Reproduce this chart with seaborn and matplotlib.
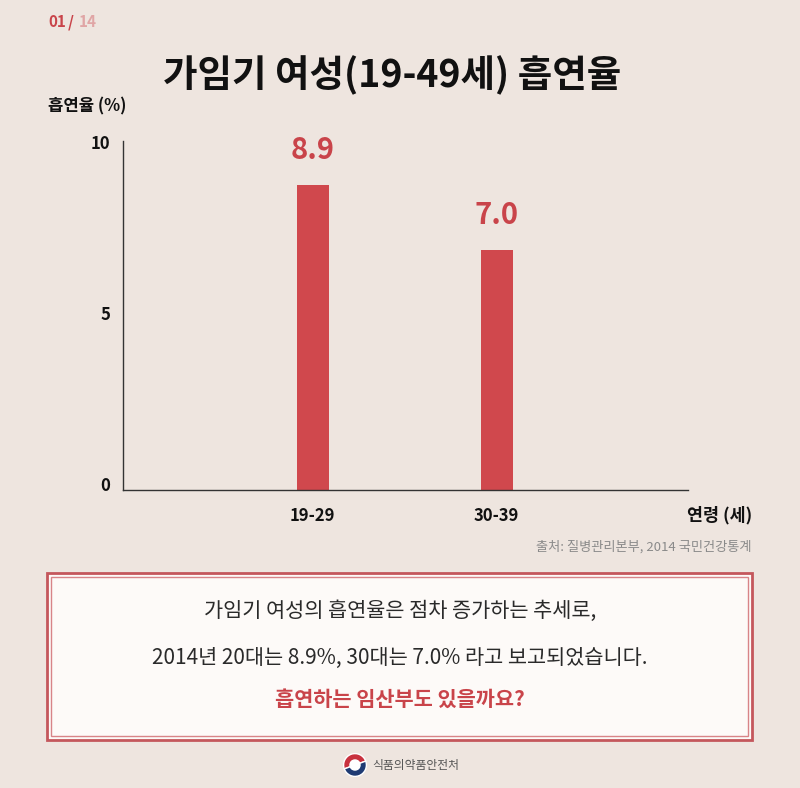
import matplotlib
matplotlib.use("Agg")
import matplotlib.pyplot as plt
import matplotlib.transforms as mtransforms
import seaborn as sns
import pandas as pd
from matplotlib.patches import Rectangle, Circle, Wedge

categories = ["19-29", "30-39"]
values = [8.9, 7.0]
value_labels = ["8.9", "7.0"]
y_ticks = [0, 5, 10]

BG = "#EEE5DF"
RED = "#D0484D"
TXT_RED = "#C9444A"

sns.set_theme(style="white")
plt.rcParams["font.family"] = ["Noto Sans CJK KR", "DejaVu Sans"]

fig = plt.figure(figsize=(8, 7.88), dpi=100)
fig.patch.set_facecolor(BG)

ax = fig.add_axes([123/800, 1-490/788, (688-123)/800, 349/788])
ax.set_facecolor(BG)
df = pd.DataFrame({"age": categories, "rate": values})
sns.barplot(data=df, x="age", y="rate", color=RED, width=0.174, ax=ax, saturation=1,
            linewidth=0, edgecolor=RED)
ax.set_xlim(-1.03, 2.04)
ax.set_ylim(0, 10.2)
for i, (v, lab) in enumerate(zip(values, value_labels)):
    ax.annotate(lab, (i, v), xytext=(0, 20), textcoords="offset pixels",
                ha="center", va="bottom", fontsize=21, fontweight="bold", color=TXT_RED)
ax.set_yticks(y_ticks)
ax.set_yticklabels([str(t) for t in y_ticks], fontsize=12, fontweight="bold", color="#111111")
ax.tick_params(axis="y", length=0, pad=9)
shift = mtransforms.ScaledTranslation(0, 4/100, fig.dpi_scale_trans)
for lbl in ax.get_yticklabels():
    lbl.set_verticalalignment("center")
    lbl.set_transform(lbl.get_transform() + shift)
ax.set_xticks(range(len(categories)))
ax.set_xticklabels(categories, fontsize=12, fontweight="bold", color="#111111")
ax.tick_params(axis="x", length=0, pad=12)
ax.set_xlabel("")
ax.set_ylabel("")
for s in ["top", "right"]:
    ax.spines[s].set_visible(False)
for s in ["left", "bottom"]:
    ax.spines[s].set_color("#333333")
    ax.spines[s].set_linewidth(1.0)

# texts
fig.text(48/800, 1-22/788, "01", fontsize=11, fontweight="bold", color="#C9444A", va="center")
fig.text(68/800, 1-22/788, "/", fontsize=11, fontweight="bold", color="#C9444A", va="center")
fig.text(79/800, 1-22/788, "14", fontsize=11, fontweight="bold", color="#E0A5A5", va="center")
fig.text(392/800, 1-75/788, "가임기 여성(19-49세) 흡연율", fontsize=27, fontweight="black",
         color="#111111", ha="center", va="center")
fig.text(48/800, 1-106/788, "흡연율 (%)", fontsize=12, fontweight="bold", color="#111111", va="center")
fig.text(752/800, 1-515/788, "연령 (세)", fontsize=12.5, fontweight="bold", color="#111111",
         ha="right", va="center")
fig.text(752/800, 1-547/788, "출처: 질병관리본부, 2014 국민건강통계", fontsize=9.5, color="#8A8A8A",
         ha="right", va="center")

# box
fig.patches.append(Rectangle((47/800, 1-740/788), 705/800, 167/788, transform=fig.transFigure,
                             facecolor="#FDFAF8", edgecolor="#C4575C", linewidth=2.0, zorder=0))
fig.patches.append(Rectangle((51/800, 1-736/788), 697/800, 159/788, transform=fig.transFigure,
                             facecolor="none", edgecolor="#D88488", linewidth=1.0, zorder=1))
fig.text(400/800, 1-611/788, "가임기 여성의 흡연율은 점차 증가하는 추세로,", fontsize=15,
         color="#2A2A2A", ha="center", va="center")
fig.text(400/800, 1-658/788, "2014년 20대는 8.9%, 30대는 7.0% 라고 보고되었습니다.", fontsize=15,
         color="#2A2A2A", ha="center", va="center")
fig.text(400/800, 1-699/788, "흡연하는 임산부도 있을까요?", fontsize=15, fontweight="bold",
         color="#C9444A", ha="center", va="center")

# footer logo
logo_ax = fig.add_axes([343/800, 1-777/788, 24/800, 24/788])
logo_ax.set_xlim(-1, 1); logo_ax.set_ylim(-1, 1); logo_ax.axis("off")
logo_ax.add_patch(Wedge((0, 0), 0.95, 20, 200, facecolor="#C8313E"))
logo_ax.add_patch(Wedge((0, 0), 0.95, 200, 380, facecolor="#1F3B73"))
logo_ax.add_patch(Circle((0, 0), 0.42, facecolor="white"))
fig.text(372/800, 1-765/788, "식품의약품안전처", fontsize=8.5, color="#555555", va="center")

fig.savefig("out.png", dpi=100, facecolor=BG)
